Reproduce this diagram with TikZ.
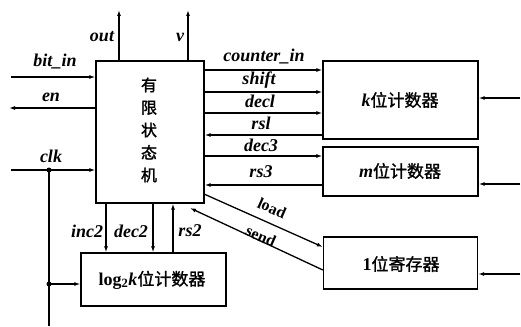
\documentclass[tikz,border=0pt]{standalone}
\usepackage{fontspec}
\setmainfont{Liberation Serif}
\newfontfamily\cjk[FakeBold=1.5]{Noto Sans CJK SC}
\usetikzlibrary{arrows.meta}
\tikzset{
  box/.style={draw, line width=1.3pt, inner sep=0pt},
  wire/.style={line width=1.3pt},
  arr/.style={wire, -{Latex[length=6pt,width=4pt]}},
  lbl/.style={font=\fontsize{18}{18}\selectfont\bfseries\itshape, inner sep=1pt},
  lblu/.style={font=\fontsize{16}{16}\selectfont\bfseries, inner sep=0pt},
  cn/.style={font=\fontsize{17}{17}\selectfont\cjk, inner sep=0pt},
  dot/.style={circle, fill, inner sep=0pt, minimum size=5pt}
}
\newcommand{\lat}{\fontsize{18}{18}\selectfont\rmfamily\bfseries}
\begin{document}
\begin{tikzpicture}[x=1pt,y=-1pt]
\useasboundingbox (0,0) rectangle (521,326);
% boxes
\node[box, minimum width=108pt, minimum height=142pt] (fsm) at (150,132) {};
\node[cn, align=center, font=\fontsize{16}{22.5}\selectfont\cjk] (fsmt) at (149,130) {有\\限\\状\\态\\机};
\node[box, minimum width=155pt, minimum height=78pt] (kc) at (400.5,100) {};
\node[cn] (kct) at (400,100) {{\lat\itshape k}位计数器};
\node[box, minimum width=155pt, minimum height=49pt] (mc) at (400.5,171.5) {};
\node[cn] (mct) at (400,171) {{\lat\itshape m}位计数器};
\node[box, minimum width=154pt, minimum height=52pt] (reg) at (400.5,263) {};
\node[cn] (regt) at (401,264) {{\lat 1}位寄存器};
\node[box, minimum width=145pt, minimum height=53pt] (lg) at (153.5,279.5) {};
\node[cn] (lgt) at (152,280) {{\lat log$_{\mathbf 2}$\itshape k}位计数器};
% top outputs
\coordinate (outT) at (119,10);
\coordinate (vT) at (188,10);
\draw[arr] (fsm.north -| outT) -- (outT);
\draw[arr] (fsm.north -| vT) -- (vT);
\node[lbl] (outl) at (102,37) {out};
\node[lbl] (vl) at (180,37) {v};
% left signals
\coordinate (bitS) at (11,77);
\coordinate (enE) at (9,108);
\coordinate (clkS) at (11,170);
\draw[arr] (bitS) -- (fsm.west |- bitS);
\node[lbl] (bitl) at (55,62) {bit\_in};
\draw[arr] (fsm.west |- enE) -- (enE);
\node[lbl] (enl) at (51,97) {en};
\draw[arr] (clkS) -- (fsm.west |- clkS);
\node[lbl] (clkl) at (51,156) {clk};
\node[dot] (d1) at (49,170) {};
\node[dot] (d2) at (49,284) {};
\coordinate (clkB) at (49,326);
\draw[wire] (d1.center) -- (clkB);
\draw[arr] (d2.center) -- (lg.west |- d2);
% bottom signals
\coordinate (inc) at (106,0);
\coordinate (dec) at (153,0);
\coordinate (rs) at (173,0);
\draw[arr] (fsm.south -| inc) -- (lg.north -| inc);
\draw[arr] (fsm.south -| dec) -- (lg.north -| dec);
\draw[arr] (lg.north -| rs) -- (fsm.south -| rs);
\node[lbl] (incl) at (87,231) {inc2};
\node[lbl] (decl) at (131,231) {dec2};
\node[lbl] (rsl2) at (190,231) {rs2};
% right signals
\coordinate (y1) at (0,70);
\coordinate (y2) at (0,92);
\coordinate (y3) at (0,113);
\coordinate (y4) at (0,135);
\coordinate (y5) at (0,156);
\coordinate (y6) at (0,185);
\draw[arr] (fsm.east |- y1) -- (kc.west |- y1);
\draw[arr] (fsm.east |- y2) -- (kc.west |- y2);
\draw[arr] (fsm.east |- y3) -- (kc.west |- y3);
\draw[arr] (kc.west |- y4) -- (fsm.east |- y4);
\draw[arr] (fsm.east |- y5) -- (mc.west |- y5);
\draw[arr] (mc.west |- y6) -- (fsm.east |- y6);
\node[lbl] (l1) at (264,57) {counter\_in};
\node[lbl] (l2) at (259,80) {shift};
\node[lbl] (l3) at (260,101) {decl};
\node[lbl] (l4) at (261,123) {rsl};
\node[lbl] (l5) at (261,145) {dec3};
\node[lbl] (l6) at (261,172) {rs3};
% load / send
\coordinate (ldS) at (204,194);
\coordinate (ldE) at (0,247);
\coordinate (sdS) at (0,270);
\coordinate (sdE) at (190,208);
\draw[arr] (ldS) -- (reg.west |- ldE);
\draw[arr] (reg.west |- sdS) -- (sdE);
\node[lblu, rotate=-24] (ldl) at (272,208) {load};
\node[lblu, rotate=-24] (sdl) at (261,236) {send};
% right inputs
\coordinate (r1) at (520,98);
\coordinate (r2) at (520,184);
\coordinate (r3) at (520,274);
\draw[arr] (r1) -- (kc.east |- r1);
\draw[arr] (r2) -- (mc.east |- r2);
\draw[arr] (r3) -- (reg.east |- r3);
\end{tikzpicture}
\end{document}
